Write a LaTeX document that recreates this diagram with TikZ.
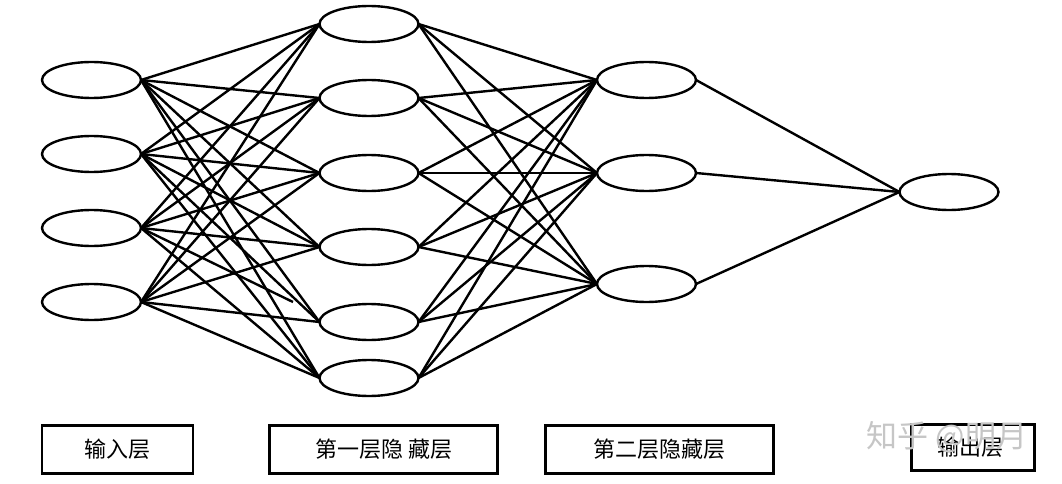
\documentclass[tikz,border=0pt]{standalone}
\usepackage{fontspec}
\newfontfamily\cjk{Noto Sans CJK SC}
\usetikzlibrary{shapes.geometric}
\begin{document}
\begin{tikzpicture}[x=1pt,y=-1pt,
  neuron/.style={ellipse, draw, line width=2.4pt, minimum width=99pt, minimum height=36pt, inner sep=0pt, outer sep=0pt},
  link/.style={line width=2.4pt},
  layerbox/.style={draw, line width=2.8pt, inner sep=0pt, font=\cjk\fontsize{22}{22}\selectfont},
  watermark/.style={text=gray!45, font=\cjk\fontsize{31}{31}\selectfont, inner sep=0pt}]
\useasboundingbox (0,0) rectangle (1062,484);
% input layer
\foreach \i/\y in {1/80,2/154,3/228,4/302} \node[neuron] (i\i) at (91.5,\y) {};
% first hidden layer
\foreach \i/\y in {1/24,2/98,3/173,4/247,5/322,6/378} \node[neuron] (h\i) at (369,\y) {};
% second hidden layer
\foreach \i/\y in {1/80,2/173,3/284} \node[neuron] (s\i) at (646.5,\y) {};
% output
\node[neuron] (o) at (949,192) {};
% input -> hidden 1
\foreach \a in {1,2,3,4}
  \foreach \b in {1,2,3,4,5,6}
  {
    \ifnum\a=3 \ifnum\b=5 \else \draw[link] (i\a.east) -- (h\b.west); \fi
    \else \draw[link] (i\a.east) -- (h\b.west); \fi
  }
\coordinate (stub) at (293,302);
\draw[link] (i3.east) -- (stub);
% hidden 1 -> hidden 2
\foreach \a in {1,...,6}
  \foreach \b in {1,2,3}
    \draw[link] (h\a.east) -- (s\b.west);
% hidden 2 -> output
\foreach \a in {1,2,3}
  \draw[link] (s\a.east) -- (o.west);
% layer labels
\node[layerbox, minimum width=151pt, minimum height=48pt] (l1) at (117.5,449.5) {输入层};
\node[layerbox, minimum width=228pt, minimum height=48pt] (l2) at (383.7,449.5) {第一层隐 藏层};
\node[layerbox, minimum width=228pt, minimum height=48pt] (l3) at (659.3,449.5) {第二层隐藏层};
\node[layerbox, minimum width=123pt, minimum height=46pt] (l4) at (973,447.5) {\hspace*{-6pt}输出层};
% watermark
\node[watermark] (wm) at (947,437) {知乎 @明月};
\end{tikzpicture}
\end{document}
